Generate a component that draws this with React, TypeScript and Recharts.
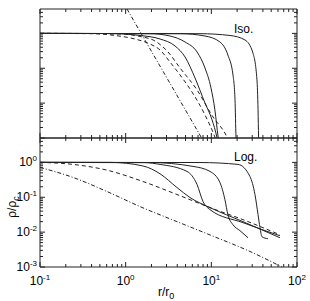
import { LineChart, Line, XAxis, YAxis } from 'recharts';

// [r/r0, rho/rhoc] pairs
type Pt = [number, number];

const X_TICKS = [
  0.1, 0.2, 0.3, 0.4, 0.5, 0.6, 0.7, 0.8, 0.9,
  1, 2, 3, 4, 5, 6, 7, 8, 9,
  10, 20, 30, 40, 50, 60, 70, 80, 90, 100,
];
const Y_TICKS = [
  0.001, 0.002, 0.003, 0.004, 0.005, 0.006, 0.007, 0.008, 0.009,
  0.01, 0.02, 0.03, 0.04, 0.05, 0.06, 0.07, 0.08, 0.09,
  0.1, 0.2, 0.3, 0.4, 0.5, 0.6, 0.7, 0.8, 0.9,
  1, 2, 3, 4,
];

// Iso. panel
const ISO_S1: Pt[] = [[0.1, 1], [0.656, 0.99], [1.47, 0.87], [2.52, 0.69], [3.77, 0.435], [4.93, 0.211], [6.45, 0.0527], [8.43, 0.0101], [10.2, 0.0033], [11.6, 0.00107], [11.9, 0.0008]];
const ISO_S2: Pt[] = [[0.1, 1], [1.92, 0.98], [3.29, 0.84], [4.93, 0.566], [6.81, 0.293], [8.43, 0.102], [9.91, 0.0272], [11.0, 0.0064], [12.0, 0.00107], [12.2, 0.0008]];
const ISO_S3: Pt[] = [[0.1, 1], [4.31, 0.98], [8.43, 0.84], [12.6, 0.566], [15.6, 0.24], [17.9, 0.0643], [18.9, 0.0124], [19.4, 0.00107], [19.5, 0.0008]];
const ISO_S4: Pt[] = [[0.1, 1], [7.38, 0.98], [16.5, 0.87], [24.7, 0.647], [30.6, 0.274], [34.1, 0.0462], [35.1, 0.0064], [35.6, 0.00107], [35.7, 0.0008]];
const ISO_D1: Pt[] = [[0.1, 1], [0.859, 0.96], [1.47, 0.815], [2.2, 0.605], [3.12, 0.293], [4.31, 0.102], [6.81, 0.0239], [10.45, 0.00402], [15.2, 0.00107], [16, 0.0008]];
const ISO_D2: Pt[] = [[0.1, 1], [0.384, 0.99], [0.75, 0.87], [1.28, 0.69], [1.92, 0.497], [2.52, 0.334], [3.29, 0.151], [4.31, 0.0643], [5.94, 0.0209], [8.43, 0.00459], [11.0, 0.00107], [11.5, 0.0008]];
const ISO_DD: Pt[] = [[1.036, 5], [7.9, 0.0009]];

// Log. panel
const LOG_S1: Pt[] = [[0.1, 1], [0.656, 1], [1.59, 0.79], [2.52, 0.47], [3.97, 0.19], [5.64, 0.098], [9.64, 0.0505], [23.4, 0.02], [63.2, 0.0069]];
const LOG_S2: Pt[] = [[0.1, 1], [1.68, 0.98], [2.52, 0.875], [5.2, 0.55], [6.81, 0.232], [8.0, 0.0752], [9.64, 0.0442], [23.4, 0.0187], [63.2, 0.00787]];
const LOG_S3: Pt[] = [[0.1, 1], [1.92, 0.99], [6.11, 0.767], [9.64, 0.55], [12.6, 0.265], [14.4, 0.0859], [15.6, 0.0317], [17.9, 0.0163], [21.6, 0.011], [26.8, 0.0069]];
const LOG_S4: Pt[] = [[0.1, 1], [7.38, 0.99], [20.5, 0.875], [28.2, 0.395], [32.3, 0.12], [35.1, 0.0317], [37, 0.0134], [39, 0.00737], [45.8, 0.00645]];
const LOG_D: Pt[] = [[0.1, 1], [0.243, 0.875], [0.622, 0.588], [1.59, 0.283], [3.97, 0.12], [9.64, 0.0505], [23.4, 0.0228], [63.2, 0.0084]];
const LOG_DD: Pt[] = [[0.1, 0.718], [0.243, 0.37], [0.605, 0.146], [1.47, 0.054], [3.97, 0.02], [8.89, 0.009], [30.6, 0.00255], [66.8, 0.001]];

const INK = '#222';
const FONT = '"Liberation Sans", Arial, Helvetica, sans-serif';

const toRows = (pts: Pt[]) => pts.map(([r, rho]) => ({ r, rho }));
const isDecade = (v: number) => Math.abs(Math.log10(v) - Math.round(Math.log10(v))) < 1e-6;

type Side = 'bottom' | 'top' | 'left' | 'right';

// draws an inward tick (longer on decades) and, if asked, the 10^n label
function makeTick(side: Side, labels: boolean) {
  return (props: any) => {
    const { x, y, payload } = props;
    const major = isDecade(payload.value);
    const len = major ? 5 : 3;
    const dx = side === 'left' ? len : side === 'right' ? -len : 0;
    const dy = side === 'bottom' ? -len : side === 'top' ? len : 0;
    const e = Math.round(Math.log10(payload.value));
    let label = null;
    if (labels && major && side === 'bottom') {
      label = (
        <text x={x} y={y + 18} textAnchor="middle" fontSize={12} fill="#000" fontFamily={FONT}>
          <tspan>10</tspan>
          <tspan dy={-5} fontSize={8}>{e}</tspan>
        </text>
      );
    } else if (labels && major && side === 'left') {
      label = (
        <text x={x - 3} y={y + 4} textAnchor="end" fontSize={12} fill="#000" fontFamily={FONT}>
          <tspan>10</tspan>
          <tspan dy={-5} fontSize={8}>{e}</tspan>
        </text>
      );
    }
    return (
      <g>
        <line x1={x} y1={y} x2={x + dx} y2={y + dy} stroke={INK} strokeWidth={1} />
        {label}
      </g>
    );
  };
}

function frame(labels: boolean) {
  const line = { stroke: INK };
  const xCommon = { type: 'number' as const, scale: 'log' as const, domain: [0.1, 100], allowDataOverflow: true, dataKey: 'r', height: 1, interval: 0 as const, tickSize: 0, tickMargin: 0, tickLine: false, axisLine: line, ticks: X_TICKS };
  const yCommon = { type: 'number' as const, scale: 'log' as const, domain: [0.001, 5], allowDataOverflow: true, width: 1, interval: 0 as const, tickSize: 0, tickMargin: 0, tickLine: false, axisLine: line, ticks: Y_TICKS };
  return [
    <XAxis key="x" xAxisId="x" {...xCommon} tick={makeTick('bottom', labels)} />,
    <XAxis key="xt" xAxisId="xt" orientation="top" {...xCommon} tick={makeTick('top', false)} />,
    <YAxis key="y" yAxisId="y" {...yCommon} tick={makeTick('left', labels)} />,
    <YAxis key="yr" yAxisId="yr" orientation="right" {...yCommon} tick={makeTick('right', false)} />,
  ];
}

function curve(key: string, pts: Pt[], dash?: string, type: 'monotone' | 'linear' = 'monotone') {
  return (
    <Line
      key={key}
      xAxisId="x"
      yAxisId="y"
      data={toRows(pts)}
      dataKey="rho"
      type={type}
      stroke={INK}
      strokeWidth={1}
      strokeDasharray={dash}
      dot={false}
      activeDot={false}
      isAnimationActive={false}
    />
  );
}

const DASH = '4 3';
const DASHDOT = '4 2 1 2';

export default function App() {
  return (
    <div style={{ position: 'absolute', left: 0, top: 0, width: 310, height: 301, background: '#fff', fontFamily: FONT }}>
      <div style={{ position: 'absolute', left: 0, top: 0 }}>
        <LineChart width={310} height={139} margin={{ top: 8, right: 12, bottom: 0, left: 39 }}>
          {frame(false)}
          {curve('s1', ISO_S1)}
          {curve('s2', ISO_S2)}
          {curve('s3', ISO_S3)}
          {curve('s4', ISO_S4)}
          {curve('d1', ISO_D1, DASH)}
          {curve('d2', ISO_D2, DASH)}
          {curve('dd', ISO_DD, DASHDOT, 'linear')}
        </LineChart>
      </div>
      <div style={{ position: 'absolute', left: 0, top: 137 }}>
        <LineChart width={310} height={164} margin={{ top: 0, right: 12, bottom: 33, left: 39 }}>
          {frame(true)}
          {curve('s1', LOG_S1)}
          {curve('s2', LOG_S2)}
          {curve('s3', LOG_S3)}
          {curve('s4', LOG_S4)}
          {curve('d', LOG_D, DASH)}
          {curve('dd', LOG_DD, DASHDOT)}
        </LineChart>
      </div>
      <svg width={310} height={301} style={{ position: 'absolute', left: 0, top: 0, pointerEvents: 'none' }} fontFamily={FONT}>
        <text x={234} y={33} fontSize={12} fill="#000">Iso.</text>
        <text x={234} y={161} fontSize={12} fill="#000">Log.</text>
        <text x={158} y={296} fontSize={12} fill="#000">
          r/r<tspan dy={3} fontSize={9}>0</tspan>
        </text>
        <text transform="translate(16,207) rotate(-90)" textAnchor="middle" fontSize={12} fill="#000">
          ρ/ρ<tspan dy={3} fontSize={9}>c</tspan>
        </text>
      </svg>
    </div>
  );
}
